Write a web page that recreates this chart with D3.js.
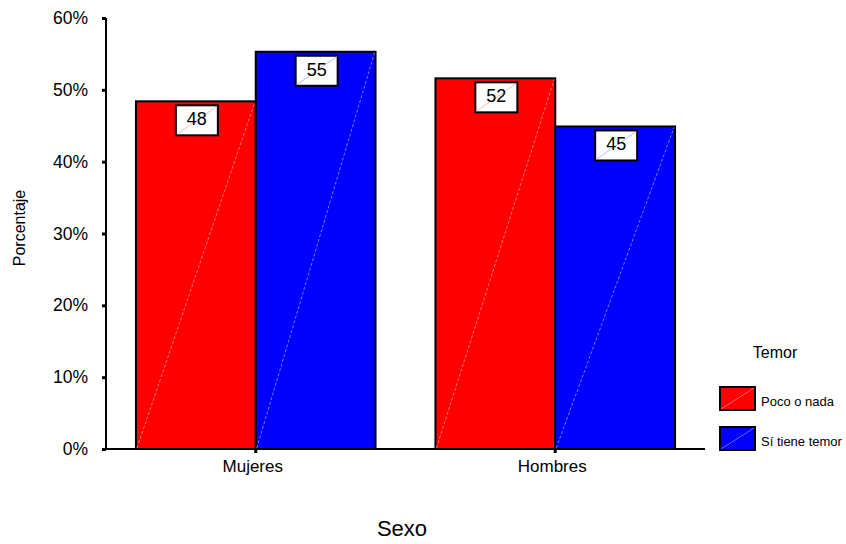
<!DOCTYPE html>
<html><head><meta charset="utf-8">
<script src="https://cdn.jsdelivr.net/npm/d3@7"></script>
<style>body{margin:0;background:#fff}svg{display:block;font-family:"Liberation Sans",Arial,sans-serif}</style>
</head><body><svg id="c" width="846" height="544"></svg>
<script>
const categories = ["Mujeres", "Hombres"];
const seriesNames = ["Poco o nada", "Sí tiene temor"];
const pocoValues = [48.4, 51.6];
const siValues = [55.3, 44.9];
const dataLabels = [["48", "52"], ["55", "45"]];
const yTicks = [0, 10, 20, 30, 40, 50, 60];
const colors = ["#ff0000", "#0000ff"];
const lineColors = ["#ff9a9a", "#9a9aff"];

(function () {
const svg = d3.select("#c");
const mLeft = 106, mRight = 705, mTop = 18, mBottom = 449;
const x = d3.scaleBand().domain(categories).range([mLeft, mRight]).paddingInner(0.2).paddingOuter(0.1);
const x1 = d3.scaleBand().domain(seriesNames).range([0, x.bandwidth()]);
const y = d3.scaleLinear().domain([0, 60]).range([mBottom, mTop]);

const series = [pocoValues, siValues];
const rows = [];
seriesNames.forEach((s, si) => categories.forEach((c, ci) => rows.push({s, si, c, ci, v: series[si][ci], lab: dataLabels[si][ci]})));

const g = svg.append("g");
g.selectAll("rect.bar").data(rows).join("rect").attr("class", "bar")
  .attr("x", d => x(d.c) + x1(d.s)).attr("y", d => y(d.v))
  .attr("width", x1.bandwidth()).attr("height", d => y(0) - y(d.v))
  .attr("fill", d => colors[d.si]).attr("stroke", "#000").attr("stroke-width", 2);
g.selectAll("line.diag").data(rows).join("line").attr("class", "diag")
  .attr("x1", d => x(d.c) + x1(d.s) + 1).attr("y1", y(0) - 1)
  .attr("x2", d => x(d.c) + x1(d.s) + x1.bandwidth() - 1).attr("y2", d => y(d.v) + 1)
  .attr("stroke", d => lineColors[d.si]).attr("stroke-width", 0.8).attr("stroke-dasharray", "3,2");

// data labels
const bw = 42, bh = 30;
const lab = g.selectAll("g.lab").data(rows).join("g").attr("class", "lab")
  .attr("transform", d => `translate(${x(d.c) + x1(d.s) + x1.bandwidth() / 2 + 1},${y(d.v) + 4})`);
lab.append("rect").attr("x", -bw / 2).attr("y", 0).attr("width", bw).attr("height", bh)
  .attr("fill", "#fff").attr("stroke", "#000").attr("stroke-width", 2);
lab.append("line").attr("x1", -bw / 2 + 1).attr("y1", bh - 1).attr("x2", bw / 2 - 1).attr("y2", 1)
  .attr("stroke", d => lineColors[d.si]).attr("stroke-width", 0.7);
lab.append("text").attr("x", 0).attr("y", 20).attr("text-anchor", "middle")
  .attr("font-size", 18).text(d => d.lab);

// y axis
const yAxis = d3.axisLeft(y).tickValues(yTicks).tickFormat(d => d + "%").tickSize(4).tickPadding(14);
const ya = svg.append("g").attr("transform", `translate(${mLeft},0)`).call(yAxis);
ya.select(".domain").attr("stroke", "#000").attr("stroke-width", 2).attr("d", `M0,${mTop}V${mBottom}`);
ya.selectAll(".tick line").attr("stroke", "#000").attr("stroke-width", 3);
ya.selectAll(".tick text").attr("font-size", 17.5).attr("fill", "#000").attr("font-family", "Liberation Sans, Arial, sans-serif");

// x axis
const xAxis = d3.axisBottom(x).tickSize(4).tickPadding(7);
const xa = svg.append("g").attr("transform", `translate(0,${mBottom})`).call(xAxis);
xa.select(".domain").attr("stroke", "#000").attr("stroke-width", 2).attr("d", `M${mLeft},0H${mRight}`);
xa.selectAll(".tick line").attr("stroke", "#000").attr("stroke-width", 3);
xa.selectAll(".tick text").attr("font-size", 17).attr("fill", "#000").attr("dx", -3)
  .attr("font-family", "Liberation Sans, Arial, sans-serif");

// axis titles
svg.append("text").attr("transform", "translate(25,228) rotate(-90)").attr("text-anchor", "middle")
  .attr("font-size", 16).text("Porcentaje");
svg.append("text").attr("x", 402).attr("y", 536).attr("text-anchor", "middle")
  .attr("font-size", 22).text("Sexo");

// legend
svg.append("text").attr("x", 775).attr("y", 358).attr("text-anchor", "middle").attr("font-size", 16).text("Temor");
const lg = svg.selectAll("g.leg").data(seriesNames).join("g").attr("class", "leg")
  .attr("transform", (d, i) => `translate(720,${387 + i * 40})`);
lg.append("rect").attr("width", 35).attr("height", 23).attr("fill", (d, i) => colors[i])
  .attr("stroke", "#000").attr("stroke-width", 2);
lg.append("line").attr("x1", 1).attr("y1", 22).attr("x2", 34).attr("y2", 1)
  .attr("stroke", (d, i) => lineColors[i]).attr("stroke-width", 0.7);
lg.append("text").attr("x", 41).attr("y", 19).attr("font-size", 13).text(d => d);
})();
</script></body></html>
